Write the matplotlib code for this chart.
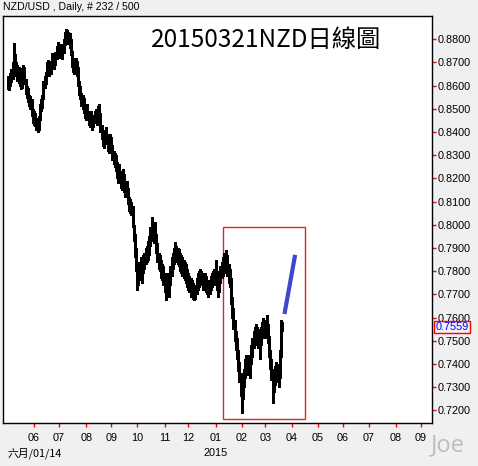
import pandas as pd
import numpy as np
import matplotlib
matplotlib.use("Agg")
import matplotlib.pyplot as plt
from matplotlib.patches import Rectangle

# NZD/USD daily bars, 2014-05-01 .. 2015-03-20
highs = [
    .8640, .8625, .8655, .8670, .8700, .8785, .8735, .8700, .8690, .8680,
    .8675, .8640, .8665, .8690, .8680, .8630, .8600, .8590, .8560, .8555,
    .8540, .8500, .8490, .8480, .8460, .8450, .8470, .8520, .8540, .8560,
    .8620, .8640, .8660, .8700, .8710, .8690, .8705, .8740, .8735, .8720,
    .8745, .8770, .8790, .8780, .8775, .8780, .8770, .8800, .8830, .8845,
    .8840, .8830, .8825, .8800, .8750, .8720, .8710, .8720, .8705, .8680,
    .8620, .8600, .8570, .8560, .8545, .8520, .8510, .8520, .8490, .8480,
    .8490, .8470, .8475, .8490, .8500, .8490, .8510, .8520, .8480, .8430,
    .8410, .8390, .8410, .8420, .8390, .8370, .8390, .8380, .8345, .8320,
    .8310, .8300, .8270, .8250, .8260, .8230, .8210, .8240, .8220, .8180,
    .8190, .8160, .8120, .8110, .8100, .8080, .8000, .7960, .7900, .7840,
    .7810, .7840, .7860, .7830, .7870, .7880, .7900, .7910, .7930, .7950,
    .7990, .8033, .8000, .7990, .8010, .7960, .7920, .7880, .7870, .7850,
    .7830, .7820, .7790, .7770, .7790, .7780, .7770, .7820, .7860, .7880,
    .7900, .7927, .7910, .7900, .7895, .7880, .7870, .7860, .7850, .7840,
    .7830, .7810, .7790, .7780, .7770, .7760, .7750, .7730, .7740, .7770,
    .7790, .7800, .7810, .7800, .7790, .7780, .7790, .7780, .7760, .7750,
    .7760, .7780, .7790, .7800, .7810, .7847, .7800, .7760, .7780, .7820,
    .7840, .7860, .7878, .7860, .7890, .7870, .7830, .7810, .7770, .7690,
    .7640, .7590, .7540, .7510, .7460, .7410, .7360, .7320, .7340, .7380,
    .7420, .7440, .7430, .7440, .7420, .7480, .7510, .7540, .7560, .7570,
    .7560, .7550, .7530, .7560, .7580, .7600, .7590, .7580, .7610, .7570,
    .7520, .7460, .7420, .7380, .7360, .7390, .7410, .7400, .7380, .7460,
    .7589, .7580,
]
lows = [
    .8585, .8580, .8600, .8615, .8630, .8680, .8660, .8640, .8620, .8610,
    .8600, .8585, .8590, .8630, .8605, .8565, .8545, .8530, .8510, .8500,
    .8470, .8440, .8430, .8425, .8410, .8402, .8410, .8450, .8490, .8505,
    .8540, .8590, .8605, .8640, .8655, .8640, .8650, .8680, .8680, .8670,
    .8690, .8715, .8735, .8730, .8720, .8725, .8715, .8740, .8775, .8790,
    .8790, .8780, .8760, .8730, .8680, .8660, .8650, .8660, .8640, .8600,
    .8560, .8540, .8510, .8500, .8480, .8460, .8450, .8460, .8430, .8420,
    .8430, .8410, .8420, .8440, .8445, .8430, .8455, .8460, .8400, .8370,
    .8340, .8330, .8350, .8360, .8320, .8310, .8330, .8310, .8280, .8260,
    .8250, .8230, .8200, .8180, .8200, .8160, .8150, .8180, .8140, .8120,
    .8130, .8090, .8060, .8050, .8040, .7990, .7930, .7860, .7800, .7718,
    .7740, .7770, .7760, .7750, .7790, .7810, .7830, .7840, .7850, .7870,
    .7910, .7950, .7930, .7920, .7930, .7880, .7840, .7810, .7800, .7770,
    .7760, .7740, .7710, .7675, .7700, .7700, .7690, .7740, .7780, .7810,
    .7830, .7850, .7840, .7830, .7820, .7800, .7790, .7780, .7770, .7760,
    .7750, .7730, .7720, .7710, .7690, .7690, .7680, .7675, .7680, .7700,
    .7720, .7730, .7740, .7740, .7720, .7720, .7730, .7710, .7700, .7690,
    .7700, .7720, .7730, .7740, .7740, .7750, .7720, .7690, .7710, .7750,
    .7770, .7780, .7800, .7790, .7810, .7780, .7750, .7730, .7660, .7600,
    .7550, .7500, .7460, .7420, .7370, .7320, .7260, .7188, .7250, .7300,
    .7340, .7360, .7350, .7370, .7340, .7400, .7430, .7470, .7490, .7500,
    .7480, .7470, .7420, .7480, .7510, .7530, .7520, .7510, .7540, .7490,
    .7430, .7380, .7330, .7231, .7280, .7310, .7330, .7320, .7300, .7340,
    .7430, .7540,
]
closes = [
    .8600, .8610, .8630, .8650, .8690, .8720, .8680, .8665, .8640, .8660,
    .8610, .8600, .8650, .8670, .8620, .8580, .8570, .8545, .8530, .8520,
    .8480, .8460, .8470, .8440, .8430, .8420, .8460, .8510, .8525, .8550,
    .8610, .8625, .8650, .8690, .8670, .8660, .8695, .8720, .8700, .8710,
    .8730, .8760, .8770, .8745, .8760, .8740, .8755, .8790, .8815, .8820,
    .8805, .8815, .8780, .8745, .8700, .8690, .8670, .8700, .8665, .8610,
    .8580, .8560, .8530, .8540, .8500, .8480, .8495, .8470, .8450, .8470,
    .8445, .8430, .8460, .8480, .8460, .8470, .8500, .8480, .8410, .8390,
    .8360, .8370, .8390, .8380, .8340, .8355, .8370, .8330, .8300, .8290,
    .8280, .8250, .8220, .8230, .8215, .8180, .8170, .8200, .8150, .8160,
    .8140, .8100, .8080, .8070, .8060, .8000, .7950, .7880, .7820, .7760,
    .7790, .7810, .7780, .7800, .7850, .7830, .7880, .7860, .7900, .7920,
    .7970, .7980, .7960, .7950, .7940, .7900, .7860, .7840, .7820, .7790,
    .7810, .7760, .7730, .7720, .7760, .7720, .7750, .7800, .7840, .7860,
    .7880, .7870, .7890, .7860, .7870, .7830, .7840, .7810, .7820, .7790,
    .7770, .7760, .7740, .7750, .7720, .7740, .7700, .7710, .7720, .7750,
    .7770, .7760, .7790, .7770, .7760, .7750, .7770, .7740, .7720, .7730,
    .7740, .7760, .7770, .7780, .7760, .7790, .7740, .7730, .7760, .7800,
    .7810, .7840, .7820, .7840, .7850, .7800, .7780, .7760, .7680, .7620,
    .7570, .7520, .7490, .7440, .7390, .7340, .7300, .7240, .7310, .7350,
    .7390, .7410, .7380, .7420, .7380, .7460, .7490, .7520, .7540, .7530,
    .7540, .7510, .7500, .7550, .7560, .7580, .7550, .7570, .7560, .7510,
    .7450, .7400, .7360, .7300, .7340, .7370, .7390, .7340, .7350, .7440,
    .7560, .7559,
]

# projection line and highlight box
proj_dates = ["2015-03-24", "2015-04-06"]
proj_prices = [0.7615, 0.7870]
box_dates = ["2015-01-09", "2015-04-16"]
box_prices = [0.7161, 0.7990]

month_labels = ["06", "07", "08", "09", "10", "11", "12", "01",
                "02", "03", "04", "05", "06", "07", "08", "09"]
y_ticks = [0.72 + 0.01 * k for k in range(17)]
last_price = closes[-1]

# bar index axis (weekdays only), extended into the future
days = pd.bdate_range("2014-05-01", "2015-10-01")
pos = {d: i for i, d in enumerate(days)}
month_starts = [i for i in range(1, len(days)) if days[i].month != days[i - 1].month]
month_starts = month_starts[:len(month_labels)]

bg = "#F0F0F0"
fig = plt.figure(figsize=(4.78, 4.66), dpi=100, facecolor=bg)
ax = fig.add_axes([3 / 478, 43 / 466, 429 / 478, 407 / 466])
ax.set_facecolor("white")

x = np.arange(len(highs))
ax.vlines(x, lows, highs, color="black", lw=1, antialiased=False)
ax.hlines(closes, x, x + 0.9, color="black", lw=1, antialiased=False)

px = [pos[pd.Timestamp(d)] for d in proj_dates]
ax.plot(px, proj_prices, color="#3F48CC", lw=3, solid_capstyle="butt")

bx = [pos[pd.Timestamp(d)] for d in box_dates]
ax.add_patch(Rectangle((bx[0], box_prices[0]), bx[1] - bx[0],
                       box_prices[1] - box_prices[0],
                       fill=False, edgecolor="#E8202A", lw=1))

ax.set_xlim(-4.1, 357.3)
ax.set_ylim(0.71452, 0.8900)

ax.yaxis.tick_right()
ax.set_yticks(y_ticks)
ax.set_yticklabels([f"{v:.4f}" for v in y_ticks])
ax.set_xticks(month_starts)
ax.set_xticklabels(month_labels)
ax.tick_params(axis="both", colors="red", labelcolor="black", length=3,
               width=1, labelsize=7.8, pad=1)
ax.tick_params(axis="x", pad=4)
for lab in ax.get_xticklabels() + ax.get_yticklabels():
    lab.set_family("Liberation Sans")
for s in ax.spines.values():
    s.set_color("black")
    s.set_linewidth(1)

ax.text(1.008, last_price, f"{last_price:.4f}", transform=ax.get_yaxis_transform(),
        ha="left", va="center", color="blue", fontsize=7.8,
        family="Liberation Sans",
        bbox=dict(boxstyle="square,pad=0.12", facecolor=bg, edgecolor="red", lw=1),
        zorder=5, clip_on=False)

fig.text(3 / 478, 1 - 7 / 466, "NZD/USD , Daily, # 232 / 500", ha="left",
         va="center", fontsize=7.6, family="Liberation Sans")
fig.text(266 / 478, 1 - 40 / 466, "20150321NZD日線圖", ha="center", va="center",
         fontsize=17.5, family=["Noto Sans CJK TC", "DejaVu Sans"])
fig.text(8 / 478, 1 - 453 / 466, "六月/01/14", ha="left", va="center",
         fontsize=7.8, family=["Noto Sans CJK TC", "Liberation Sans"])
fig.text(0, 1 - 453 / 466, "2015", ha="center", va="center",
         fontsize=7.8, family="Liberation Sans",
         transform=ax.get_xaxis_transform() + fig.transFigure - fig.transFigure)
fig.texts[-1].set_transform(
    matplotlib.transforms.blended_transform_factory(ax.transData, fig.transFigure))
fig.texts[-1].set_x(month_starts[7])
fig.text(448 / 478, 1 - 445 / 466, "Joe", ha="center", va="center",
         fontsize=17, color="#BDBDBD", family="Open Sans")

fig.savefig("out.png", dpi=100, facecolor=bg)
